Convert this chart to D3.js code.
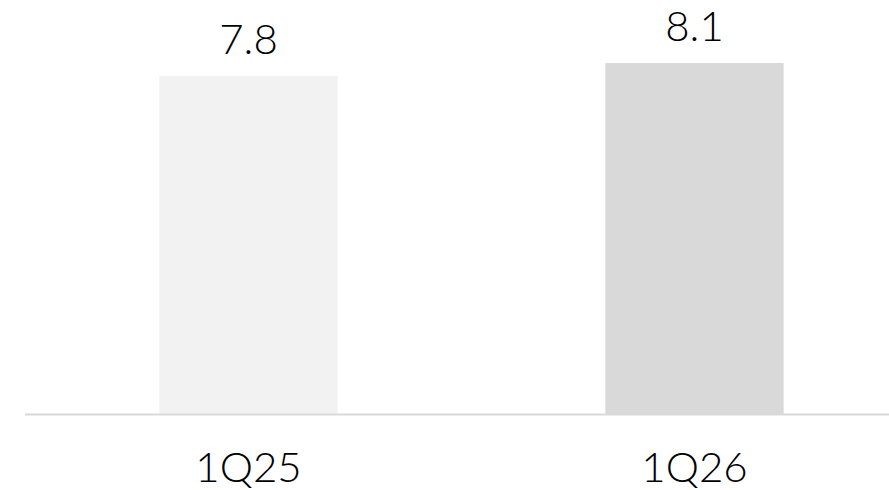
<!DOCTYPE html>
<html>
<head>
<meta charset="utf-8">
<script src="https://cdn.jsdelivr.net/npm/d3@7"></script>
<style>
  body { margin: 0; background: #fff; }
  svg text { font-family: "Century Gothic", "URW Gothic", Lato, sans-serif; font-weight: 300; fill: #000; }
</style>
</head>
<body>
<div class="chart"></div>
<script>
const categories = ["1Q25", "1Q26"];
const values = [7.8, 8.1];
const barColors = ["#f2f2f2", "#d9d9d9"];

function init() {
    const w = 889;
    const h = 490;
    const baseY = 414;

    const svg = d3.select(".chart")
        .append("svg")
        .attr("width", w)
        .attr("height", h);

    // the plot area runs past the right edge of the frame
    const x = d3.scaleBand()
        .domain(categories)
        .range([25.5, 917.5])
        .paddingInner(0.6)
        .paddingOuter(0.3);

    const y = d3.scaleLinear()
        .domain([0, 10])
        .range([baseY, baseY - 433.3]);

    svg.selectAll("rect.bar")
        .data(values)
        .enter()
        .append("rect")
        .attr("class", "bar")
        .attr("x", (d, i) => x(categories[i]))
        .attr("y", d => y(d))
        .attr("width", x.bandwidth())
        .attr("height", d => y(0) - y(d))
        .style("fill", (d, i) => barColors[i]);

    svg.append("line")
        .attr("x1", 25)
        .attr("x2", w)
        .attr("y1", baseY + 0.5)
        .attr("y2", baseY + 0.5)
        .style("stroke", "#d9d9d9")
        .style("stroke-width", 2);

    svg.selectAll("text.value")
        .data(values)
        .enter()
        .append("text")
        .attr("class", "value")
        .attr("x", (d, i) => x(categories[i]) + x.bandwidth() / 2)
        .attr("y", d => y(d) - 22)
        .attr("text-anchor", "middle")
        .style("font-size", "42px")
        .text(d => d.toFixed(1));

    svg.selectAll("text.cat")
        .data(categories)
        .enter()
        .append("text")
        .attr("class", "cat")
        .attr("x", d => x(d) + x.bandwidth() / 2)
        .attr("y", 482)
        .attr("text-anchor", "middle")
        .style("font-size", "42px")
        .text(d => d);
}

window.onload = init;
</script>
</body>
</html>
